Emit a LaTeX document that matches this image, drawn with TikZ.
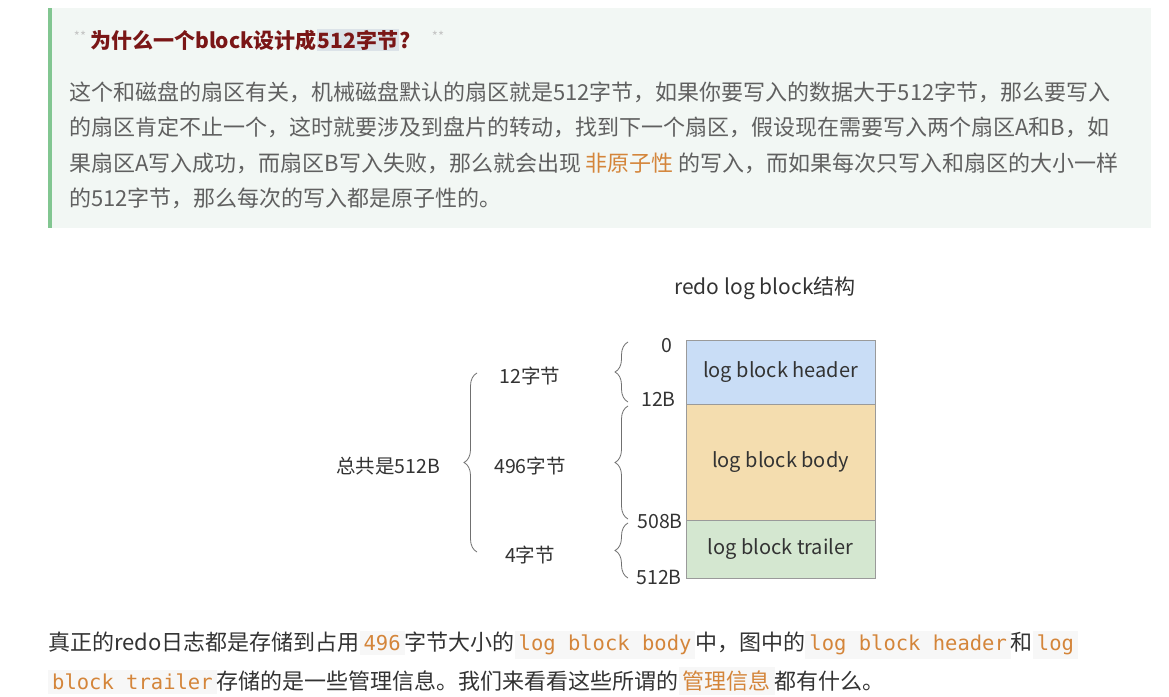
\documentclass[tikz,border=0pt]{standalone}
\usepackage{fontspec}
\setmainfont{Noto Sans CJK SC}
\setmonofont{DejaVu Sans Mono}
\usetikzlibrary{decorations.pathreplacing}
\definecolor{quotebg}{HTML}{F2F7F4}
\definecolor{quotebar}{HTML}{82C691}
\definecolor{titlered}{HTML}{7A1616}
\definecolor{stargray}{HTML}{C4C4C4}
\definecolor{hlgray}{HTML}{DCE3E8}
\definecolor{txtgray}{HTML}{606060}
\definecolor{txtdark}{HTML}{333333}
\definecolor{accent}{HTML}{D4853A}
\definecolor{codebg}{HTML}{F7F7F7}
\definecolor{hdrblue}{HTML}{C9DDF6}
\definecolor{bodytan}{HTML}{F4DDAF}
\definecolor{trlgreen}{HTML}{D4E7D0}
\definecolor{edgegray}{HTML}{9A9A9A}
\definecolor{bracegray}{HTML}{707070}
\newcommand{\codebit}[1]{{\setlength{\fboxsep}{4pt}\colorbox{codebg}{\textcolor{accent}{\ttfamily\fontsize{20.5}{20.5}\selectfont #1}}}}
\newcommand{\notebit}[1]{{\setlength{\fboxsep}{4pt}\colorbox{codebg}{\textcolor{accent}{#1}}}}
\tikzset{
    para/.style={anchor=west, inner sep=0pt, font=\fontsize{22}{22}\selectfont, text=txtgray},
    seg/.style={rectangle, draw=edgegray, line width=0.8pt, minimum width=189pt, inner sep=0pt, font=\fontsize{20}{20}\selectfont, text=txtdark},
    lbl/.style={inner sep=0pt, font=\fontsize{19.5}{19.5}\selectfont, text=txtdark},
    brc/.style={draw=bracegray, line width=0.8pt, decorate, decoration={brace, amplitude=13pt}},
}

\begin{document}
\begin{tikzpicture}[x=1pt, y=-1pt]
\useasboundingbox[fill=white] (0,0) rectangle (1169,696);

% ── Quote box ──
\fill[quotebg] (48,8) rectangle (1151,228);
\fill[quotebar] (48,8) rectangle (52,228);
\node[inner sep=0pt, text=stargray, font=\fontsize{13}{13}\selectfont] (st1) at (80,36) {**};
\node[para, text=titlered, font=\fontsize{21}{21}\selectfont\bfseries] (title) at (90,40) {为什么一个block设计成{\setlength{\fboxsep}{1pt}\colorbox{hlgray}{512字节}}?};
\node[inner sep=0pt, text=stargray, font=\fontsize{13}{13}\selectfont] (st2) at (438,36) {**};

\node[para] (q1) at (69,92) {这个和磁盘的扇区有关，机械磁盘默认的扇区就是512字节，如果你要写入的数据大于512字节，那么要写入};
\node[para] (q2) at (69,127.5) {的扇区肯定不止一个，这时就要涉及到盘片的转动，找到下一个扇区，假设现在需要写入两个扇区A和B，如};
\node[para] (q3) at (69,163) {果扇区A写入成功，而扇区B写入失败，那么就会出现 \textcolor{accent}{非原子性} 的写入，而如果每次只写入和扇区的大小一样};
\node[para] (q4) at (69,198.5) {的512字节，那么每次的写入都是原子性的。};

% ── Block layout ──
\node[lbl, font=\fontsize{21}{21}\selectfont] (cap) at (765,288) {redo log block结构};
\node[seg, fill=hdrblue, minimum height=64pt] (head) at (780.5,372) {log block header};
\node[seg, fill=bodytan, minimum height=116.5pt] (body) at (780.5,462.25) {log block body};
\node[seg, fill=trlgreen, minimum height=57.5pt] (trail) at (780.5,549.25) {log block trailer};

\node[lbl, anchor=east] (o0) at (673,346) {0};
\node[lbl, anchor=east] (o12) at (676,399) {12B};
\node[lbl, anchor=east] (o508) at (683,521) {508B};
\node[lbl, anchor=east] (o512) at (682,577) {512B};

% ── Braces ──
\coordinate (r0) at (628,342);
\coordinate (r1) at (628,402);
\coordinate (r2) at (628,406);
\coordinate (r3) at (628,519);
\coordinate (r4) at (628,523);
\coordinate (r5) at (628,578);
\draw[brc] (r1) -- (r0);
\draw[brc] (r3) -- (r2);
\draw[brc] (r5) -- (r4);

\node[lbl] (s12) at (530,376) {12字节};
\node[lbl] (s496) at (530,466) {496字节};
\node[lbl] (s4) at (530,555) {4字节};

\coordinate (t0) at (477,373);
\coordinate (t1) at (477,552);
\draw[brc] (t1) -- (t0);
\node[lbl] (total) at (388,466) {总共是512B};

% ── Note below ──
\node[para, text=txtdark] (n1) at (48,645) {真正的redo日志都是存储到占用\codebit{496}字节大小的\codebit{log block body}中，图中的\codebit{log block header}和\codebit{log}};
\node[para, text=txtdark] (n2) at (48,681) {\codebit{block trailer}存储的是一些管理信息。我们来看看这些所谓的\notebit{管理信息}都有什么。};

\end{tikzpicture}
\end{document}
